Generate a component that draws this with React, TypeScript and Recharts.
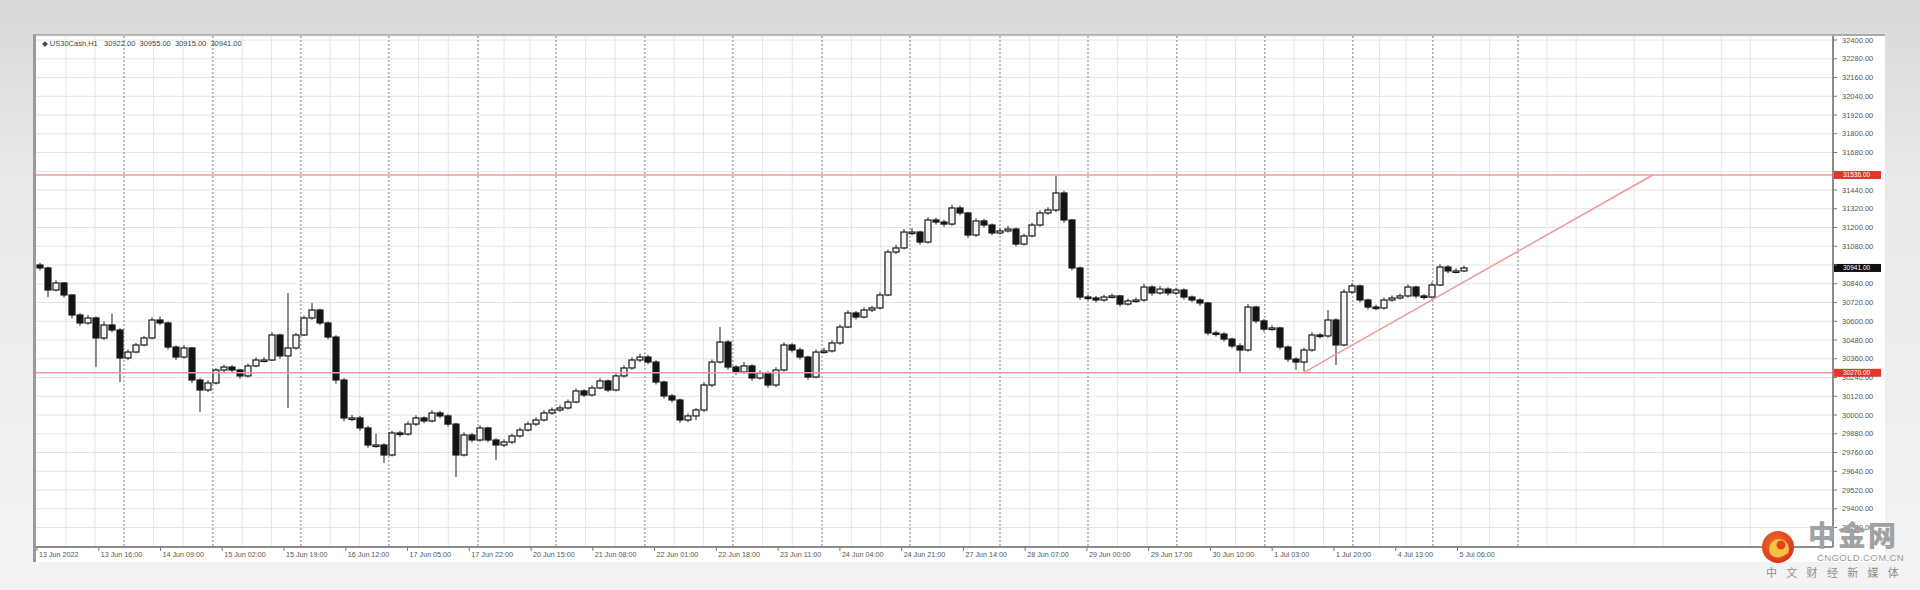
import {
  ComposedChart,
  Bar,
  XAxis,
  YAxis,
  CartesianGrid,
  ReferenceLine,
} from "recharts";

/* ---------- data (US30 H1) ---------- */

const symbol = "US30Cash,H1";
const firstOpen = 30960;

const closes = [
  30941, 30800, 30845, 30768, 30640, 30589, 30621, 30493, 30576, 30544,
  30365, 30403, 30448, 30493, 30608, 30589, 30435, 30371, 30429, 30224,
  30160, 30205, 30288, 30307, 30288, 30250, 30314, 30352, 30352, 30512,
  30378, 30429, 30512, 30621, 30672, 30589, 30499, 30224, 29981, 29981,
  29917, 29808, 29808, 29744, 29885, 29878, 29942, 29981, 29962, 30013,
  29994, 29942, 29744, 29872, 29840, 29917, 29840, 29808, 29827, 29866,
  29904, 29942, 29968, 30013, 30032, 30045, 30083, 30154, 30128, 30173,
  30218, 30160, 30250, 30301, 30352, 30371, 30339, 30211, 30122, 30096,
  29968, 29994, 30032, 30192, 30339, 30467, 30307, 30275, 30314, 30237,
  30269, 30192, 30288, 30448, 30416, 30371, 30243, 30403, 30410, 30461,
  30563, 30653, 30627, 30672, 30685, 30768, 31043, 31069, 31171, 31171,
  31107, 31248, 31235, 31222, 31325, 31293, 31152, 31242, 31216, 31165,
  31178, 31190, 31094, 31146, 31216, 31293, 31312, 31421, 31248, 30941,
  30755, 30749, 30736, 30755, 30762, 30710, 30730, 30736, 30819, 30781,
  30806, 30781, 30800, 30755, 30736, 30717, 30525, 30518, 30486, 30442,
  30416, 30691, 30602, 30550, 30557, 30435, 30358, 30339, 30416, 30512,
  30506, 30608, 30448, 30787, 30826, 30736, 30691, 30685, 30736, 30749,
  30762, 30819, 30762, 30755, 30832, 30947, 30922, 30922, 30941,
];

const highs = [
  30975, 30950, 30862, 30852, 30775, 30652, 30640, 30630, 30600, 30650,
  30555, 30420, 30462, 30508, 30625, 30630, 30598, 30445, 30448, 30436,
  30235, 30222, 30300, 30322, 30318, 30296, 30330, 30368, 30370, 30530,
  30520, 30781, 30525, 30635, 30717, 30680, 30598, 30510, 30235, 30000,
  29995, 29930, 29880, 29820, 29900, 29900, 29960, 29998, 29990, 30030,
  30025, 30005, 29950, 29890, 29885, 29935, 29925, 29852, 29845, 29880,
  29920, 29958, 29985, 30030, 30048, 30062, 30100, 30170, 30165, 30190,
  30235, 30228, 30266, 30318, 30370, 30392, 30385, 30350, 30220, 30135,
  30105, 30010, 30045, 30210, 30355, 30563, 30480, 30320, 30340, 30325,
  30285, 30280, 30305, 30465, 30460, 30430, 30380, 30420, 30430, 30478,
  30580, 30670, 30665, 30690, 30700, 30785, 31060, 31090, 31190, 31195,
  31180, 31265, 31262, 31250, 31345, 31340, 31300, 31260, 31255, 31225,
  31195, 31210, 31200, 31160, 31230, 31310, 31330, 31530, 31435, 31255,
  30950, 30770, 30762, 30770, 30778, 30770, 30745, 30752, 30840, 30830,
  30825, 30818, 30815, 30810, 30765, 30748, 30725, 30540, 30530, 30495,
  30460, 30710, 30700, 30615, 30575, 30565, 30445, 30370, 30430, 30530,
  30525, 30672, 30620, 30805, 30845, 30835, 30745, 30705, 30752, 30765,
  30778, 30835, 30828, 30775, 30850, 30965, 30960, 30940, 30955,
];

const lows = [
  30925, 30755, 30790, 30752, 30620, 30571, 30578, 30307, 30480, 30530,
  30211, 30350, 30395, 30440, 30485, 30575, 30420, 30352, 30360, 30205,
  30019, 30148, 30195, 30276, 30270, 30232, 30240, 30305, 30338, 30345,
  30360, 30045, 30418, 30505, 30610, 30575, 30485, 30200, 29960, 29962,
  29900, 29790, 29790, 29693, 29735, 29860, 29868, 29930, 29948, 29952,
  29980, 29925, 29603, 29735, 29825, 29830, 29826, 29712, 29795, 29815,
  29855, 29895, 29930, 29958, 30000, 30020, 30035, 30075, 30115, 30118,
  30165, 30145, 30150, 30240, 30290, 30340, 30325, 30195, 30105, 30080,
  29950, 29955, 29968, 30020, 30180, 30330, 30290, 30258, 30262, 30220,
  30225, 30175, 30180, 30278, 30400, 30355, 30225, 30235, 30392, 30400,
  30450, 30555, 30612, 30618, 30660, 30675, 30760, 31030, 31060, 31150,
  31090, 31098, 31220, 31205, 31212, 31278, 31135, 31140, 31200, 31150,
  31155, 31168, 31080, 31085, 31138, 31205, 31280, 31300, 31230, 30925,
  30738, 30735, 30720, 30725, 30745, 30695, 30700, 30718, 30725, 30765,
  30770, 30765, 30770, 30740, 30722, 30700, 30510, 30502, 30470, 30428,
  30275, 30405, 30588, 30535, 30540, 30420, 30340, 30290, 30280, 30405,
  30490, 30495, 30320, 30440, 30775, 30720, 30675, 30670, 30675, 30725,
  30740, 30752, 30748, 30740, 30745, 30825, 30908, 30905, 30915,
];

const timeLabels = [
  "13 Jun 2022", "13 Jun 16:00", "14 Jun 09:00", "15 Jun 02:00",
  "15 Jun 19:00", "16 Jun 12:00", "17 Jun 05:00", "17 Jun 22:00",
  "20 Jun 15:00", "21 Jun 08:00", "22 Jun 01:00", "22 Jun 18:00",
  "23 Jun 11:00", "24 Jun 04:00", "24 Jun 21:00", "27 Jun 14:00",
  "28 Jun 07:00", "29 Jun 00:00", "29 Jun 17:00", "30 Jun 10:00",
  "1 Jul 03:00", "1 Jul 20:00", "4 Jul 13:00", "5 Jul 06:00",
];

const priceTicks = [
  32400, 32280, 32160, 32040, 31920, 31800, 31680, 31560, 31440,
  31320, 31200, 31080, 30960, 30840, 30720, 30600, 30480, 30360,
  30240, 30120, 30000, 29880, 29760, 29640, 29520, 29400, 29280,
];

const resistance = 31536;
const support = 30270;
const trendFrom = { bar: 157.9, price: 30270 };
const trendTo = { bar: 201.6, price: 31536 };

// dotted separators, in bar units
const separators = [
  10.5, 21.6, 32.6, 43.6, 54.75, 64.5, 75.6, 86.6, 97.75, 108.75,
  120, 131, 142.1, 153.1, 164.1, 174.1, 184.75,
];

/* ---------- layout ---------- */

const W = 1920;
const H = 590;
const M = { top: 36, right: 35, bottom: 13, left: 36 };
const Y_AXIS_W = 52;
const X_AXIS_H = 30;
const X_DOMAIN: [number, number] = [-0.5, 224.125];
const Y_DOMAIN: [number, number] = [29155.2, 32425.6];
const plotW = W - M.left - M.right - Y_AXIS_W;
const xPix = (b: number) =>
  M.left + ((b - X_DOMAIN[0]) / (X_DOMAIN[1] - X_DOMAIN[0])) * plotW;

const FONT = "'Liberation Sans', 'DejaVu Sans', sans-serif";

const candles = closes.map((c, i) => {
  const o = i === 0 ? firstOpen : closes[i - 1];
  const h = Math.max(highs[i], o, c);
  const l = Math.min(lows[i], o, c);
  return { idx: i, o, c, h, l, range: [l, h] };
});
const last = candles[candles.length - 1];

// price labels hidden under the axis tags (as the terminal does)
const tagLevels = [resistance, support, last.c];
const hiddenTick = (v: number) => tagLevels.some((t) => Math.abs(t - v) < 27);

const labelTicks = timeLabels.map((_, k) => k * 7.72 - 0.375);

// light grid lines at thirds between separators, continued to the right
const lightBars: number[] = [];
{
  const step = (separators[separators.length - 1] - separators[0]) / (separators.length - 1);
  const pts = [separators[0] - step, ...separators];
  for (let b = separators[separators.length - 1] + step; b < X_DOMAIN[1]; b += step) pts.push(b);
  for (let k = 0; k < pts.length - 1; k++) {
    const d = (pts[k + 1] - pts[k]) / 3;
    lightBars.push(pts[k] + d, pts[k] + 2 * d);
  }
}

/* ---------- shapes ---------- */

function Candle(props: any) {
  const { x, y, width, height, payload } = props;
  if (!payload) return null;
  const { o, c, h, l } = payload;
  const top = Math.min(y, y + height);
  const hh = Math.abs(height);
  const k = hh / (h - l || 1);
  const yOf = (v: number) => top + (h - v) * k;
  const cx = x + width / 2;
  const bTop = yOf(Math.max(o, c));
  const bBot = yOf(Math.min(o, c));
  const up = c >= o;
  return (
    <g>
      <line x1={cx} x2={cx} y1={top} y2={top + hh} stroke="#444" strokeWidth={1.2} />
      <rect
        x={x}
        y={bTop}
        width={width}
        height={Math.max(1.5, bBot - bTop)}
        fill={up ? "#f4f4f4" : "#141414"}
        stroke="#1a1a1a"
        strokeWidth={1.2}
      />
    </g>
  );
}

function TimeTick(props: any) {
  const { x, y, index } = props;
  return (
    <g>
      <line x1={x} x2={x} y1={y} y2={y + 4} stroke="#777" />
      <text x={x + 2} y={y + 10} fontSize={7.2} fill="#555" fontFamily={FONT}>
        {timeLabels[index]}
      </text>
    </g>
  );
}

function PriceTick(props: any) {
  const { x, y, payload } = props;
  const v = Number(payload.value);
  return (
    <g>
      <line x1={x} x2={x + 4} y1={y} y2={y} stroke="#777" />
      {!hiddenTick(v) && (
        <text x={x + 9} y={y + 2.5} fontSize={7.5} fill="#555" fontFamily={FONT}>
          {v.toFixed(2)}
        </text>
      )}
    </g>
  );
}

const axisTag = (bg: string, value: number) => (p: any) => {
  const vb = p.viewBox || {};
  const x0 = (vb.x ?? 0) + (vb.width ?? 0) + 1;
  const y0 = vb.y ?? 0;
  return (
    <g>
      <rect x={x0} y={y0 - 4} width={47} height={8} fill={bg} />
      <text x={x0 + 9} y={y0 + 2.3} fontSize={6.5} fill="#fff" fontFamily={FONT}>
        {value.toFixed(2)}
      </text>
    </g>
  );
};

/* ---------- component ---------- */

export default function App() {
  return (
    <div
      style={{
        position: "absolute",
        left: 0,
        top: 0,
        width: W,
        height: H,
        overflow: "hidden",
        background: "linear-gradient(to bottom, #d9d9d9 0%, #e9e9e9 30%, #f3f3f3 100%)",
      }}
    >
      {/* chart panel */}
      <div
        style={{
          position: "absolute",
          left: 33,
          top: 34,
          width: 1852,
          height: 528,
          background: "#ffffff",
          borderTop: "2px solid #a9a9a9",
          borderLeft: "3px solid #9a9a9a",
          boxSizing: "border-box",
        }}
      />

      <div style={{ position: "absolute", left: 0, top: 0 }}>
        <ComposedChart width={W} height={H} data={candles} margin={M}>
          <CartesianGrid vertical={false} stroke="#e4e4e4" />
          <CartesianGrid horizontal={false} stroke="#e6e6e6" verticalPoints={lightBars.map(xPix)} />
          <CartesianGrid
            horizontal={false}
            stroke="#a9a9a9"
            strokeDasharray="2 2"
            strokeWidth={1.5}
            verticalPoints={separators.map(xPix)}
          />
          <XAxis
            dataKey="idx"
            type="number"
            scale="linear"
            domain={X_DOMAIN}
            allowDataOverflow
            ticks={labelTicks}
            interval={0}
            tick={<TimeTick />}
            tickLine={false}
            tickSize={0}
            tickMargin={0}
            height={X_AXIS_H}
            axisLine={{ stroke: "#8c8c8c", strokeWidth: 2 }}
          />
          <YAxis
            orientation="right"
            type="number"
            domain={Y_DOMAIN}
            allowDataOverflow
            ticks={priceTicks}
            interval={0}
            tick={<PriceTick />}
            tickLine={false}
            tickSize={0}
            tickMargin={0}
            width={Y_AXIS_W}
            axisLine={{ stroke: "#8c8c8c", strokeWidth: 2 }}
          />
          <ReferenceLine y={resistance} stroke="#ef9a9a" strokeWidth={1.5} label={axisTag("#e8352b", resistance)} />
          <ReferenceLine y={support} stroke="#ef9a9a" strokeWidth={1.5} label={axisTag("#e8352b", support)} />
          <ReferenceLine
            segment={[
              { x: trendFrom.bar, y: trendFrom.price },
              { x: trendTo.bar, y: trendTo.price },
            ]}
            stroke="#ef9a9a"
            strokeWidth={1.5}
          />
          <Bar dataKey="range" barSize={6} shape={<Candle />} isAnimationActive={false} />
          <ReferenceLine y={last.c} stroke="none" label={axisTag("#111111", last.c)} />
        </ComposedChart>
      </div>

      {/* title + watermark */}
      <svg width={W} height={H} style={{ position: "absolute", left: 0, top: 0, pointerEvents: "none" }}>
        <text x={42} y={45.5} fontSize={7.5} fill="#444" fontFamily={FONT} xmlSpace="preserve">
          {`◆ ${symbol}   ${last.o.toFixed(2)}  ${last.h.toFixed(2)}  ${last.l.toFixed(2)}  ${last.c.toFixed(2)}`}
        </text>
        <defs>
          <radialGradient id="logoRed" cx="40%" cy="35%" r="70%">
            <stop offset="0%" stopColor="#f26a2a" />
            <stop offset="100%" stopColor="#d7321a" />
          </radialGradient>
        </defs>
        <circle cx={1778} cy={547} r={16} fill="url(#logoRed)" />
        <circle cx={1779} cy={549} r={10} fill="#f7c240" />
        <circle cx={1781} cy={545} r={4.5} fill="#e0451f" />
        <path d="M1771 556 Q1778 562 1788 554" stroke="#e0451f" strokeWidth={2} fill="none" />
        <text
          x={1808}
          y={546}
          fontSize={28}
          fontWeight={900}
          letterSpacing={2}
          fill="#a2a2a2"
          fontFamily="'Noto Sans CJK SC', sans-serif"
        >
          中金网
        </text>
        <text x={1817} y={561} fontSize={9.5} fill="#9a9a9a" letterSpacing={0.4} fontFamily={FONT}>
          CNGOLD.COM.CN
        </text>
        <text
          x={1766}
          y={577}
          fontSize={11}
          letterSpacing={9.3}
          fill="#8e8e8e"
          fontFamily="'Noto Sans CJK SC', sans-serif"
        >
          中文财经新媒体
        </text>
      </svg>
    </div>
  );
}
